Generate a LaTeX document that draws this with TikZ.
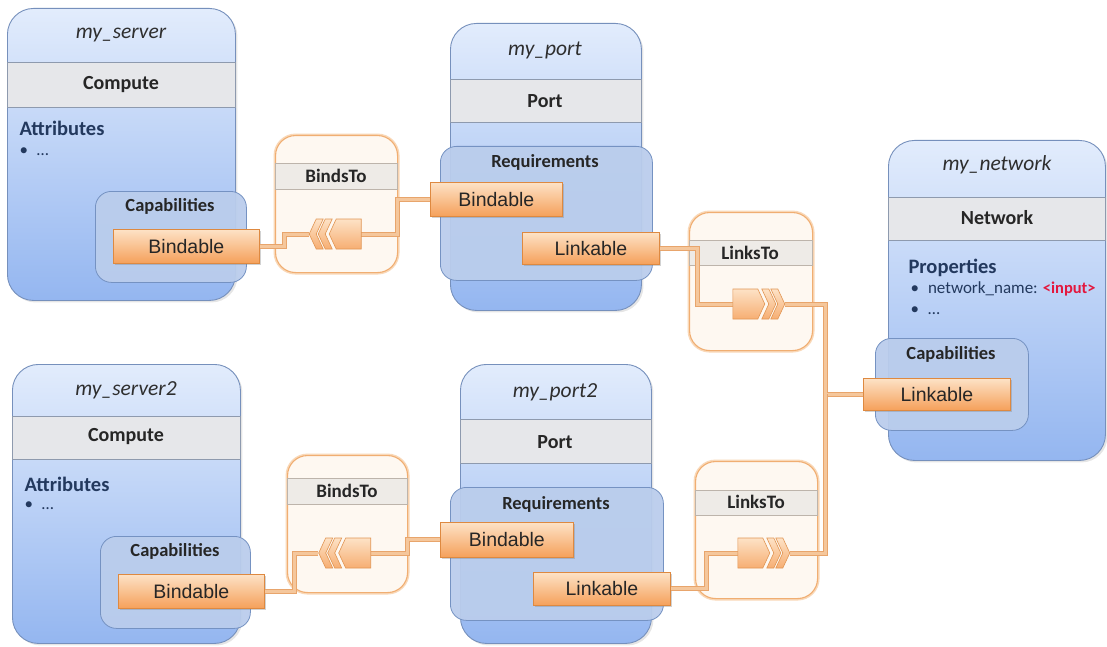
\documentclass[tikz,border=0pt]{standalone}
\usepackage{fontspec}
\setmainfont{Carlito}
\newfontfamily\arialf{Liberation Sans}
\usetikzlibrary{shadows}
\newcommand\fsz[1]{\fontsize{#1}{#1}\selectfont}
\definecolor{bluebd}{HTML}{7690BC}
\definecolor{bluetop}{HTML}{E2ECFC}
\definecolor{bluebot}{HTML}{94B6F0}
\definecolor{bandfill}{HTML}{E6E7EA}
\definecolor{bandline}{HTML}{8E9AAE}
\definecolor{capfill}{HTML}{BACDEC}
\definecolor{capbd}{HTML}{7592C2}
\definecolor{relfill}{HTML}{FEF8F1}
\definecolor{relbd}{HTML}{F0AE72}
\definecolor{relglow}{HTML}{F9D8B8}
\definecolor{relbandc}{HTML}{EEEBE7}
\definecolor{relbandline}{HTML}{BDB4AB}
\definecolor{ortop}{HTML}{FDE2C6}
\definecolor{orbot}{HTML}{F5A05A}
\definecolor{orbd}{HTML}{DE8940}
\definecolor{connout}{HTML}{E8A56C}
\definecolor{connin}{HTML}{F5C79C}
\definecolor{navy}{HTML}{23395E}
\definecolor{inred}{HTML}{E3173E}
\tikzset{
 bigbox/.style={draw=bluebd, line width=0.9pt, rounded corners=26pt, top color=bluetop, bottom color=bluebot, anchor=north west, inner sep=0pt, drop shadow={opacity=0.2, shadow xshift=2pt, shadow yshift=-2pt}},
 band/.style={fill=bandfill, draw=bandline, line width=0.6pt, anchor=north west, inner sep=0pt},
 inbox/.style={fill=capfill, fill opacity=0.94, draw=capbd, line width=0.8pt, rounded corners=16pt, anchor=north west, inner sep=0pt},
 relbox/.style={fill=relfill, draw=relbd, line width=1.1pt, rounded corners=20pt, anchor=north west, inner sep=0pt, preaction={draw=relglow, line width=4pt}},
 relband/.style={fill=relbandc, draw=relbandline, line width=0.6pt, anchor=north west, inner sep=0pt},
 orbox/.style={draw=orbd, line width=0.8pt, top color=ortop, bottom color=orbot, anchor=north west, inner sep=0pt, font=\arialf\fsz{19.5}, text=black!85, drop shadow={opacity=0.35, shadow xshift=2pt, shadow yshift=-2pt}},
 iconslot/.style={minimum width=52pt, minimum height=30pt, inner sep=0pt},
 iconpart/.style={draw=orbd!90, line width=0.6pt, top color=ortop, bottom color=orbot!85},
 conn/.style={draw=connout, double=connin, double distance=3pt, line width=1pt},
 title/.style={font=\fsz{21.5}\itshape, text=black!82},
 typ/.style={font=\fsz{20}\bfseries, text=black!85},
 sect/.style={font=\fsz{20.5}\bfseries, text=navy, anchor=west},
 blt/.style={font=\fsz{17}, text=navy, anchor=west},
 sub/.style={font=\fsz{18.5}\bfseries, text=black!85},
 reltxt/.style={font=\fsz{19}\bfseries, text=black!85},
 rightcon/.pic={
   \path[iconpart] (0,-15) -- (25,-15) -- (32,0) -- (25,15) -- (0,15) -- cycle;
   \path[iconpart] (29,-15) -- (36,-15) -- (43,0) -- (36,15) -- (29,15) -- (36,0) -- cycle;
   \path[iconpart] (38,-15) -- (45,-15) -- (52,0) -- (45,15) -- (38,15) -- (45,0) -- cycle;
 }
}
\begin{document}
\begin{tikzpicture}[x=1pt,y=-1pt]
\useasboundingbox (0,0) rectangle (1107,647);
\fill[white] (0,0) rectangle (1107,647);

% ---------- big boxes ----------
\node[bigbox, minimum width=228pt, minimum height=292pt] (srv1) at (7,8) {};
\node[band, minimum width=228pt, minimum height=45pt] (srv1b) at (7,62) {};
\node[title] (srv1t) at (121,35) {my\_server};
\node[typ] (srv1y) at (121,85) {Compute};
\node[sect] (srv1a) at (16,128) {Attributes};
\node[blt] (srv1l) at (16,152) {•\hspace{9pt}…};

\node[bigbox, minimum width=191pt, minimum height=287pt] (port1) at (450,23) {};
\node[band, minimum width=191pt, minimum height=43pt] (port1b) at (450,79) {};
\node[title] (port1t) at (545,50) {my\_port};
\node[typ] (port1y) at (545,101) {Port};

\node[bigbox, minimum width=217pt, minimum height=320pt] (net) at (888,140) {};
\node[band, minimum width=217pt, minimum height=43pt] (netb) at (888,197) {};
\node[title] (nett) at (997,165) {my\_network};
\node[typ] (nety) at (997,218) {Network};
\node[sect] (netp) at (905,268) {Properties};
\node[blt] (netp1) at (907,289) {•\hspace{9pt}network\_name: {\color{inred}\fsz{16.5}\bfseries <input>}};
\node[blt] (netp2) at (907,311) {•\hspace{9pt}…};

\node[bigbox, minimum width=228pt, minimum height=279pt] (srv2) at (12,364) {};
\node[band, minimum width=228pt, minimum height=43pt] (srv2b) at (12,416) {};
\node[title] (srv2t) at (126,390) {my\_server2};
\node[typ] (srv2y) at (126,437) {Compute};
\node[sect] (srv2a) at (21,484) {Attributes};
\node[blt] (srv2l) at (21,506) {•\hspace{9pt}…};

\node[bigbox, minimum width=191pt, minimum height=279pt] (port2) at (460,364) {};
\node[band, minimum width=191pt, minimum height=44pt] (port2b) at (460,419) {};
\node[title] (port2t) at (555,392) {my\_port2};
\node[typ] (port2y) at (555,442) {Port};

% ---------- capability / requirement boxes ----------
\node[inbox, minimum width=151pt, minimum height=91pt] (cap1) at (95,191) {};
\node[sub] (cap1t) at (170,206) {Capabilities};
\node[inbox, minimum width=212pt, minimum height=134pt] (req1) at (440,146) {};
\node[sub] (req1t) at (545,162) {Requirements};
\node[inbox, minimum width=153pt, minimum height=92pt] (ncap) at (875,338) {};
\node[sub] (ncapt) at (951,354) {Capabilities};
\node[inbox, minimum width=150pt, minimum height=92pt] (cap2) at (100,536) {};
\node[sub] (cap2t) at (175,551) {Capabilities};
\node[inbox, minimum width=213pt, minimum height=133pt] (req2) at (450,487) {};
\node[sub] (req2t) at (556,504) {Requirements};

% ---------- relationship boxes ----------
\node[relbox, minimum width=122pt, minimum height=137pt] (bt1) at (275,135) {};
\node[relband, minimum width=122pt, minimum height=26pt] (bt1b) at (275,163) {};
\node[reltxt] (bt1t) at (336,176) {BindsTo};
\node[relbox, minimum width=123pt, minimum height=138pt] (lt1) at (689,212) {};
\node[relband, minimum width=123pt, minimum height=25pt] (lt1b) at (689,240) {};
\node[reltxt] (lt1t) at (750,253) {LinksTo};
\node[relbox, minimum width=120pt, minimum height=137pt] (bt2) at (287,455) {};
\node[relband, minimum width=120pt, minimum height=26pt] (bt2b) at (287,478) {};
\node[reltxt] (bt2t) at (347,491) {BindsTo};
\node[relbox, minimum width=122pt, minimum height=137pt] (lt2) at (695,461) {};
\node[relband, minimum width=122pt, minimum height=25pt] (lt2b) at (695,490) {};
\node[reltxt] (lt2t) at (756,502) {LinksTo};

% ---------- orange capability/requirement entries ----------
\node[orbox, minimum width=146pt, minimum height=34pt] (sb1) at (113,229) {Bindable};
\node[orbox, minimum width=132pt, minimum height=34pt] (pb1) at (430,182) {Bindable};
\node[orbox, minimum width=137pt, minimum height=32pt] (pl1) at (522,232) {Linkable};
\node[orbox, minimum width=147pt, minimum height=32pt] (nl) at (863,378) {Linkable};
\node[orbox, minimum width=146pt, minimum height=34pt] (sb2) at (118,574) {Bindable};
\node[orbox, minimum width=133pt, minimum height=35pt] (pb2) at (440,522) {Bindable};
\node[orbox, minimum width=137pt, minimum height=33pt] (pl2) at (533,572) {Linkable};

% ---------- icon slots ----------
\node[iconslot] (bi1) at (335,234) {};
\node[iconslot] (li1) at (759,304) {};
\node[iconslot] (bi2) at (344.5,553) {};
\node[iconslot] (li2) at (764,553) {};

% ---------- connectors ----------
\draw[conn] (sb1.east) -| ([xshift=-24pt]bi1.west) -- (bi1.west);
\draw[conn] (bi1.east) -| ([xshift=-33pt]pb1.west) -- (pb1.west);
\draw[conn] (pl1.east) -| ([xshift=-35pt]li1.west) -- (li1.west);
\draw[conn] (li1.east) -| ([xshift=-38pt]nl.west) -- (nl.west);
\draw[conn] (li2.east) -| ([xshift=-38pt]nl.west);
\draw[conn] (sb2.east) -| ([xshift=-24pt]bi2.west) -- (bi2.west);
\draw[conn] (bi2.east) -| ([xshift=-33pt]pb2.west) -- (pb2.west);
\draw[conn] (pl2.east) -| ([xshift=-31pt]li2.west) -- (li2.west);

% ---------- icons ----------
\path (li1.west) pic {rightcon};
\path (li2.west) pic {rightcon};
\path (bi1.east) pic[xscale=-1] {rightcon};
\path (bi2.east) pic[xscale=-1] {rightcon};
\end{tikzpicture}
\end{document}
